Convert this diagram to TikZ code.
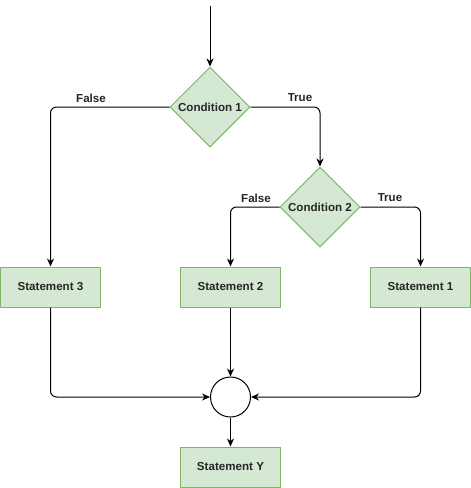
\documentclass[tikz,border=0pt]{standalone}
\usepackage{fontspec}
\setmainfont{Liberation Sans}
\usetikzlibrary{shapes.geometric,arrows.meta}
\definecolor{gfill}{HTML}{D5E8D4}
\definecolor{gline}{HTML}{82B366}
\begin{document}
\begin{tikzpicture}[x=1pt,y=-1pt,
  every node/.style={font=\fontsize{11.6}{13}\selectfont\bfseries, text=black!85},
  box/.style={draw=gline, fill=gfill, line width=1pt, minimum width=100pt, minimum height=40pt, inner sep=0pt},
  cond/.style={draw=gline, fill=gfill, line width=1pt, diamond, minimum width=80pt, minimum height=80pt, inner sep=0pt},
  junction/.style={draw=black, fill=white, circle, line width=1pt, minimum size=40pt, inner sep=0pt},
  lbl/.style={inner sep=1pt},
  conn/.style={draw=black, line width=1pt, rounded corners=6pt, -{Stealth[length=8pt,width=7pt]}}]
\useasboundingbox (0,0) rectangle (471,488);
\coordinate (start) at (210,6);
\node[cond] (c1) at (210,107) {Condition 1};
\node[cond] (c2) at (320,207) {Condition 2};
\node[box] (s3) at (50.5,287) {Statement 3};
\node[box] (s2) at (230.5,287) {Statement 2};
\node[box] (s1) at (420.5,287) {Statement 1};
\node[junction] (j) at (230.5,397) {};
\node[box] (sy) at (230.5,467) {Statement Y};
\draw[conn] (start) -- (c1.north);
\draw[conn] (c1.west) -| (s3.north);
\draw[conn] (c1.east) -| (c2.north);
\draw[conn] (c2.west) -| (s2.north);
\draw[conn] (c2.east) -| (s1.north);
\draw[conn] (s2.south) -- (j.north);
\draw[conn] (s3.south) |- (j.west);
\draw[conn] (s1.south) |- (j.east);
\draw[conn] (j.south) -- (sy.north);
\node[lbl] (f1) at (91,98) {False};
\node[lbl] (t1) at (300,98) {True};
\node[lbl] (f2) at (256,198) {False};
\node[lbl] (t2) at (390,198) {True};
\end{tikzpicture}
\end{document}
